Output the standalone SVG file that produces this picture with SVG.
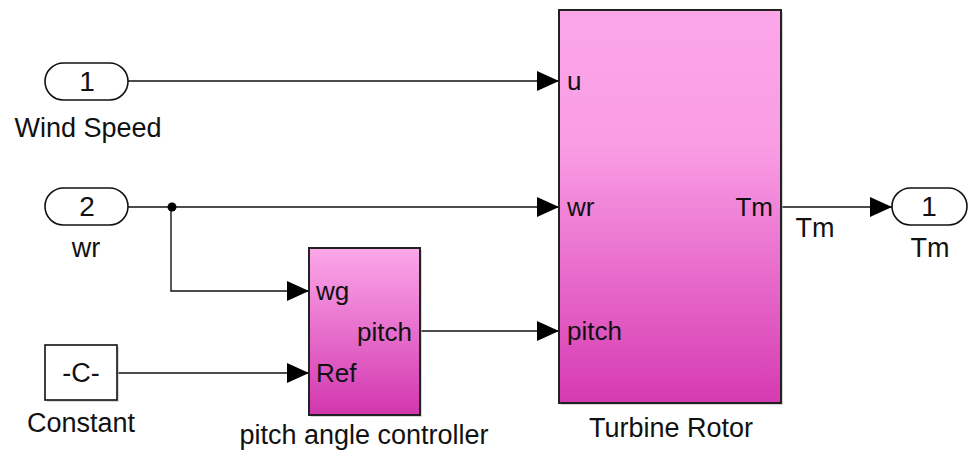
<svg xmlns="http://www.w3.org/2000/svg" width="971" height="454" viewBox="0 0 971 454">
<style>
text{font-family:"Liberation Sans",Arial,sans-serif;fill:#111}
.lbl{font-size:27px;text-anchor:middle}
.pt{font-size:26px}
.num{font-size:28px;text-anchor:middle}
.port{fill:#fff;stroke:#111;stroke-width:1.6}
.blk{stroke:#222;stroke-width:2}
.shadow{fill:#bbb;opacity:0.6}
.wire{stroke:#111;stroke-width:1.4;fill:none}
</style>
<defs>
<linearGradient id="gR" x1="0" y1="0" x2="0" y2="1">
<stop offset="0" stop-color="#fca6ea"/>
<stop offset="0.35" stop-color="#f99ce4"/>
<stop offset="1" stop-color="#d63ab2"/>
</linearGradient>
<linearGradient id="gP" x1="0" y1="0" x2="0" y2="1">
<stop offset="0" stop-color="#fca8ea"/>
<stop offset="1" stop-color="#d236ae"/>
</linearGradient>
<marker id="arr" viewBox="0 0 22 20" refX="22" refY="10" markerWidth="22" markerHeight="20" markerUnits="userSpaceOnUse" orient="auto">
<path d="M0,0 L22,10 L0,20 Z" fill="#000"/>
</marker>
</defs>
<rect width="971" height="454" fill="#fff"/>
<g id="connectors">
<path class="wire" d="M128,81 H559" marker-end="url(#arr)"/>
<path class="wire" d="M128,207 H559" marker-end="url(#arr)"/>
<path class="wire" d="M171,207 V291 H309" marker-end="url(#arr)"/>
<path class="wire" d="M117,373 H309" marker-end="url(#arr)"/>
<path class="wire" d="M420,331 H559" marker-end="url(#arr)"/>
<path class="wire" d="M781,207 H892" marker-end="url(#arr)"/>
<circle cx="172" cy="207" r="4.5" fill="#000"/>
<text class="lbl" x="815" y="237">Tm</text>
</g>
<g id="inport1">
<rect class="port" x="45" y="63" width="83" height="37" rx="18.5"/>
<text class="num" x="87" y="91">1</text>
<text class="lbl" x="88" y="137">Wind Speed</text>
</g>
<g id="inport2">
<rect class="port" x="45" y="188" width="83" height="37" rx="18.5"/>
<text class="num" x="87" y="216">2</text>
<text class="lbl" x="86" y="257">wr</text>
</g>
<g id="constant">
<rect class="shadow" x="47" y="347" width="72" height="55"/>
<rect class="port" x="45" y="345" width="72" height="55"/>
<text class="lbl" x="81" y="382">-C-</text>
<text class="lbl" x="81" y="432">Constant</text>
</g>
<g id="pitchController">
<rect class="shadow" x="311" y="250" width="111" height="167"/>
<rect class="blk" x="309" y="248" width="111" height="167" fill="url(#gP)"/>
<text class="pt" x="316" y="300">wg</text>
<text class="pt" x="412" y="341" text-anchor="end">pitch</text>
<text class="pt" x="316" y="382">Ref</text>
<text class="lbl" x="364" y="444">pitch angle controller</text>
</g>
<g id="turbineRotor">
<rect class="shadow" x="561" y="12" width="222" height="393"/>
<rect class="blk" x="559" y="10" width="222" height="393" fill="url(#gR)"/>
<text class="pt" x="567" y="90">u</text>
<text class="pt" x="567" y="216">wr</text>
<text class="pt" x="773" y="216" text-anchor="end">Tm</text>
<text class="pt" x="567" y="340">pitch</text>
<text class="lbl" x="671" y="437">Turbine Rotor</text>
</g>
<g id="outport1">
<rect class="port" x="892" y="188" width="75" height="37" rx="18.5"/>
<text class="num" x="929" y="216">1</text>
<text class="lbl" x="930" y="257">Tm</text>
</g>
</svg>
